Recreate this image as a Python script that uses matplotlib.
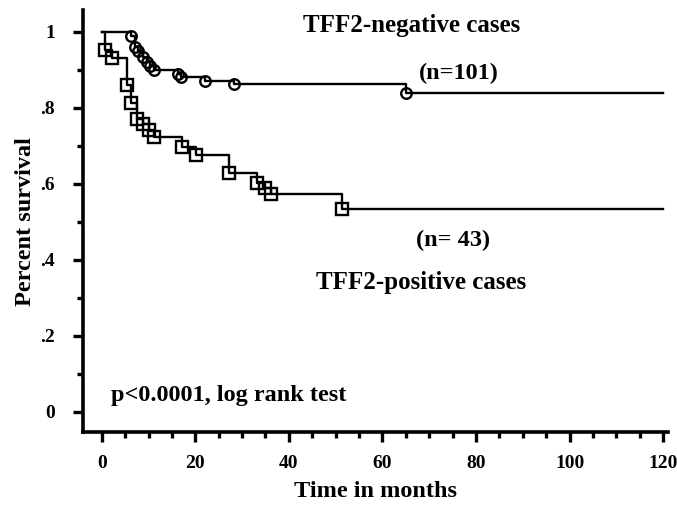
import matplotlib.pyplot as plt
from matplotlib.ticker import FixedLocator

# TFF2-negative cases (circles): step times (months) and survival after each drop
neg_times = [6.2, 7.1, 7.8, 8.9, 9.6, 10.3, 11.2, 16.2, 16.9, 22.1, 28.2, 65.0]
neg_surv = [0.99, 0.96, 0.95, 0.935, 0.92, 0.91, 0.90, 0.89, 0.88, 0.872, 0.862, 0.84]

# TFF2-positive cases (squares)
pos_times = [0.7, 2.1, 5.5, 6.2, 7.5, 8.9, 10.0, 11.1, 17.1, 20.2, 27.1, 33.2, 35.0, 36.2, 51.4]
pos_surv = [0.953, 0.930, 0.860, 0.814, 0.770, 0.757, 0.742, 0.724, 0.697, 0.676, 0.628, 0.603, 0.588, 0.574, 0.535]

x_end = 120
y_ticks = [0, 0.2, 0.4, 0.6, 0.8, 1.0]
y_labels = ['0', '.2', '.4', '.6', '.8', '1']

plt.rcParams['font.family'] = 'Liberation Serif'
plt.rcParams['font.weight'] = 'bold'

fig = plt.figure(figsize=(6.77, 5.11), dpi=100)
ax = fig.add_axes([0.1226, 0.154, 0.864, 0.826])

for times, surv, mk, ms in [(neg_times, neg_surv, 'o', 7.6), (pos_times, pos_surv, 's', 9.0)]:
    xs = [0] + times + [x_end]
    ys = [1.0] + surv + [surv[-1]]
    ax.step(xs, ys, where='post', color='black', lw=1.7)
    ax.plot(times, surv, linestyle='none', marker=mk, ms=ms, mfc='none',
            mec='black', mew=1.7)

ax.set_xlim(-4.0, 121)
ax.set_ylim(-0.054, 1.057)

for side in ['top', 'right']:
    ax.spines[side].set_visible(False)
for side in ['left', 'bottom']:
    ax.spines[side].set_linewidth(2.6)

ax.xaxis.set_major_locator(FixedLocator(range(0, 121, 20)))
ax.xaxis.set_minor_locator(FixedLocator([v for v in range(5, 120, 5) if v % 20]))
ax.set_yticks(y_ticks)
ax.set_yticklabels(y_labels)
ax.yaxis.set_minor_locator(FixedLocator([0.1, 0.3, 0.5, 0.7, 0.9]))
ax.tick_params(which='major', length=7, width=2.4, labelsize=14)
ax.tick_params(axis='x', which='major', pad=9)
ax.tick_params(axis='y', which='major', pad=13)
ax.tick_params(which='minor', length=4, width=2.4)

ax.set_xlabel('Time in months', fontsize=17.5, fontweight='bold', labelpad=7)
ax.set_ylabel('Percent survival', fontsize=17.5, fontweight='bold', labelpad=3)

ax.text(66.3, 1.018, 'TFF2-negative cases', fontsize=18, fontweight='bold', ha='center', va='center')
ax.text(76.4, 0.891, '(n=101)', fontsize=17.5, fontweight='bold', ha='center', va='center')
ax.text(75.1, 0.451, '(n= 43)', fontsize=17.5, fontweight='bold', ha='center', va='center')
ax.text(68.2, 0.341, 'TFF2-positive cases', fontsize=18, fontweight='bold', ha='center', va='center')
ax.text(27.1, 0.044, 'p<0.0001, log rank test', fontsize=17.5, fontweight='bold', ha='center', va='center')

fig.savefig('out.png', dpi=100)
